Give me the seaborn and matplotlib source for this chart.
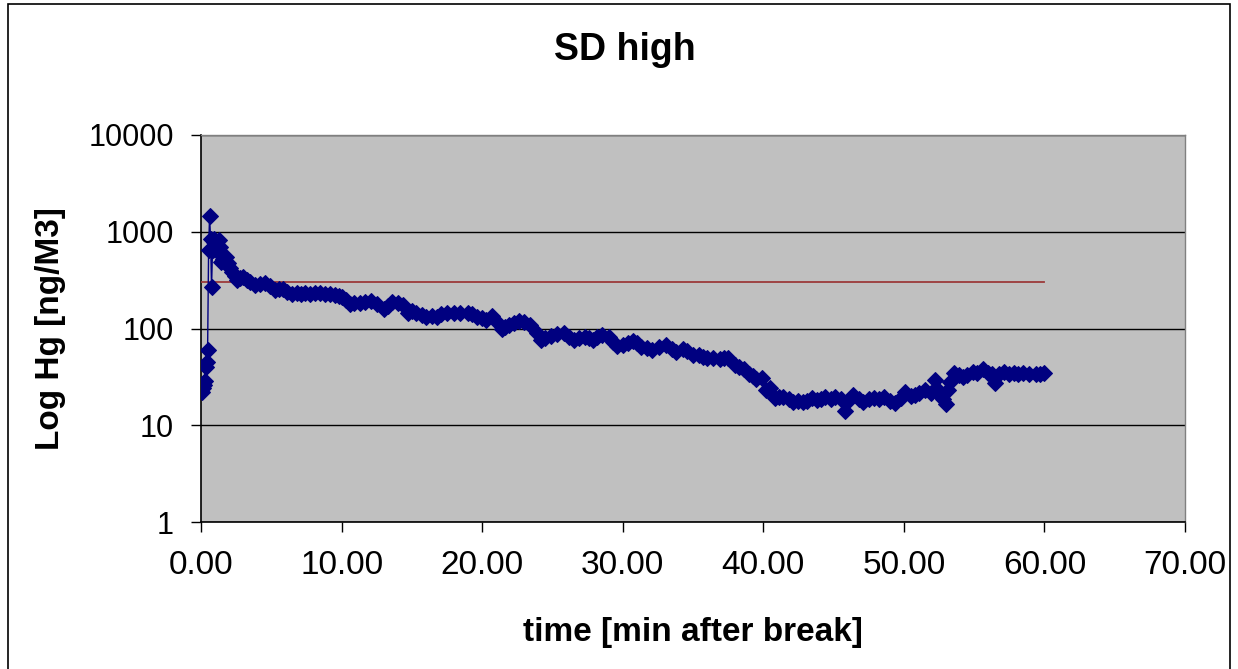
import matplotlib
matplotlib.use("Agg")
import matplotlib.pyplot as plt
import matplotlib.patches as patches
from matplotlib.ticker import FixedLocator, FuncFormatter, NullLocator
import numpy as np
import pandas as pd
import seaborn as sns

# minutes after break
time_min = [0.05, 0.12, 0.19, 0.26, 0.33, 0.40, 0.47, 0.54, 0.61, 0.68, 0.75, 0.82, 0.89, 0.96,
            1.05, 1.15, 1.25, 1.35, 1.45, 1.6, 1.75, 1.9, 2.05, 2.2, 2.4, 2.55, 2.75, 3.0, 3.25,
            3.5, 3.85, 4.2, 4.55, 4.9, 5.25, 5.55, 5.85, 6.15, 6.45, 6.8, 7.1, 7.4, 7.75, 8.1,
            8.45, 8.8, 9.15, 9.5, 9.8, 10.0, 10.3, 10.6, 10.9, 11.3, 11.7, 12.1, 12.5, 13.0,
            13.3, 13.6, 14.0, 14.4, 14.75, 15.0, 15.3, 15.7, 16.0, 16.4, 16.8, 17.1, 17.5, 18.0,
            18.4, 19.0, 19.3, 19.6, 20.0, 20.3, 20.7, 21.1, 21.4, 21.6, 21.9, 22.3, 22.6, 23.0,
            23.4, 23.9, 24.2, 24.5, 24.9, 25.3, 25.8, 26.2, 26.5, 26.9, 27.3, 27.6, 27.9, 28.2,
            28.5, 29.0, 29.3, 29.6, 30.0, 30.4, 30.7, 31.0, 31.3, 31.7, 32.1, 32.6, 33.1, 33.5,
            33.8, 34.3, 34.6, 35.0, 35.4, 35.7, 36.0, 36.4, 36.9, 37.2, 37.5, 38.0, 38.3, 38.6,
            39.0, 39.25, 39.5, 39.9, 40.2, 40.5, 40.8, 41.1, 41.4, 41.8, 42.1, 42.5, 42.8, 43.1,
            43.5, 43.8, 44.1, 44.4, 44.8, 45.1, 45.5, 45.8, 46.1, 46.4, 46.8, 47.1, 47.5, 47.9,
            48.2, 48.6, 49.0, 49.4, 49.8, 50.1, 50.5, 50.8, 51.1, 51.5, 51.9, 52.2, 52.4, 52.6,
            52.8, 53.0, 53.15, 53.3, 53.6, 53.9, 54.2, 54.5, 54.9, 55.2, 55.6, 56.0, 56.3, 56.5,
            56.8, 57.1, 57.5, 57.8, 58.1, 58.5, 58.9, 59.4, 59.7, 60.0]

# Hg concentration ng/M3
hg_values = [22, 24, 26, 29, 40, 45, 60, 650, 1450, 850, 270, 650, 850, 780,
             700, 640, 820, 700, 490, 520, 545, 470, 420, 387, 350, 317, 330, 338, 317,
             305, 282, 285, 293, 275, 250, 258, 255, 240, 227, 232, 228, 235, 228, 231,
             233, 227, 225, 222, 215, 210, 195, 178, 182, 182, 186, 194, 180, 158,
             172, 189, 183, 175, 144, 150, 144, 138, 132, 135, 132, 140, 146, 143,
             144, 146, 140, 131, 127, 122, 134, 113, 100, 104, 109, 115, 120, 116,
             109, 89, 76, 80, 84, 87, 89, 82, 76, 80, 82, 80, 76, 82,
             86, 82, 72, 66, 68, 70, 75, 70, 65, 63, 60, 64, 67, 61,
             57, 62, 58, 53, 53, 51, 50, 49, 48, 49, 50, 42, 40, 38,
             34, 32, 30, 31, 23, 24, 19, 19.5, 19.8, 18.5, 17.5, 18, 17.5, 18,
             19, 18.2, 18.5, 19.8, 18.5, 19.8, 18.5, 14.1, 18.2, 20.6, 18.5, 17.5, 18.5, 19,
             18.5, 19.8, 18, 16.9, 19, 22.2, 20, 20.6, 21.5, 23.1, 21.5, 29.4, 23, 20.6,
             18.5, 16.6, 23, 28, 34.4, 33, 31.8, 33, 35.8, 35, 37.9, 35, 34, 27.5,
             34, 35.8, 34, 34.4, 33.5, 34.4, 33.5, 33.9, 34, 34.4]

limit_time = [0, 60]
limit_value = [300, 300]

x_ticks = [0, 10, 20, 30, 40, 50, 60, 70]
y_ticks = [1, 10, 100, 1000, 10000]

plt.rcParams['font.family'] = ['Liberation Sans', 'DejaVu Sans']

df = pd.DataFrame({'time': time_min, 'hg': hg_values})
lim = pd.DataFrame({'time': limit_time, 'hg': limit_value})

W, H = 1238, 669
fig = plt.figure(figsize=(W / 100, H / 100), dpi=100)
ax = fig.add_axes([201/W, 1 - 522/H, (1185 - 201)/W, (522 - 135)/H])
ax.set_facecolor('#C0C0C0')

sns.lineplot(data=lim, x='time', y='hg', color='#9C3A3A', linewidth=1.3, ax=ax, zorder=3)
sns.lineplot(data=df, x='time', y='hg', estimator=None, sort=False, color='#000080',
             linewidth=1.0, marker='D', markersize=8, markeredgecolor='#000080',
             markerfacecolor='#000080', ax=ax, zorder=4)

ax.set_yscale('log')
ax.set_ylim(1, 10000)
ax.set_xlim(0, 70)
ax.yaxis.set_major_locator(FixedLocator(y_ticks))
ax.yaxis.set_minor_locator(NullLocator())
ax.yaxis.set_major_formatter(FuncFormatter(lambda v, p: f"{int(round(v))}"))
ax.xaxis.set_major_locator(FixedLocator(x_ticks))
ax.xaxis.set_major_formatter(FuncFormatter(lambda v, p: f"{v:.2f}"))

ax.grid(axis='y', color='black', linewidth=1.0)
ax.grid(axis='x', visible=False)
ax.set_axisbelow(True)

for side in ['top', 'right']:
    ax.spines[side].set_color('#808080')
    ax.spines[side].set_linewidth(1.0)
for side in ['left', 'bottom']:
    ax.spines[side].set_color('black')
    ax.spines[side].set_linewidth(1.2)

ax.tick_params(axis='both', direction='out', length=7.5, width=1, color='black')
ax.tick_params(axis='x', pad=13, labelsize=24)
ax.tick_params(axis='y', pad=12, labelsize=22)

fig.text(625/W, 1 - 50/H, 'SD high', fontsize=27, fontweight='bold',
         ha='center', va='center')
ax.set_xlabel('time [min after break]', fontsize=24, fontweight='bold')
ax.set_ylabel('Log Hg [ng/M3]', fontsize=24, fontweight='bold')
ax.xaxis.set_label_coords(0.5, (522 - 632) / 387)
ax.xaxis.label.set_va('center')
ax.yaxis.set_label_coords((50 - 201) / 984, 0.5)
ax.yaxis.label.set_va('center')

# chart area frame
fig.patches.append(patches.Rectangle((8/W, -0.01), 1222/W, 1 - 4/H + 0.01,
                                     transform=fig.transFigure, fill=False,
                                     edgecolor='black', linewidth=1.2))

fig.savefig('out.png', dpi=100)
